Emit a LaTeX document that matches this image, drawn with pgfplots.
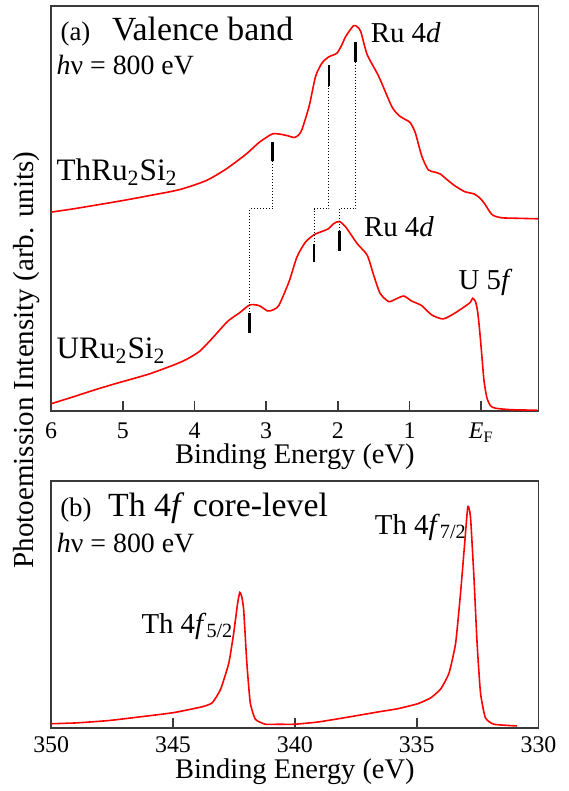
\documentclass[border=0pt]{standalone}
\usepackage{fontspec}
\setmainfont{Liberation Serif}
\usepackage{pgfplots}
\pgfplotsset{compat=1.18}
\definecolor{frame}{HTML}{3A3A3A}
\newcommand{\fs}[1]{\fontsize{#1}{#1}\selectfont}
\pgfplotsset{
  panel/.style={scale only axis, width=245pt, x dir=reverse,
    axis line style={draw=frame, line width=0.85pt},
    every tick/.style={draw=frame, line width=0.85pt},
    tick align=inside, major tick length=5pt, xtick pos=left, ytick=\empty,
    xticklabel style={font=\fs{12pt}, anchor=base, yshift=-14.2pt},
    every axis x label/.style={at={(axis description cs:0.5,0)}, anchor=base, yshift=-26.7pt, font=\fs{14.3pt}},
  },
  curve/.style={red, line width=0.8pt, smooth, tension=0.4},
  bar/.style={black, line width=1.3pt},
  guide/.style={black, densely dotted, line width=0.5pt},
}
\tikzset{lab/.style={anchor=base west, inner sep=0pt}}

\begin{document}
\begin{tikzpicture}
% (a) valence band
\begin{axis}[panel, at={(0,0)}, anchor=north west, height=203.5pt,
  xmin=-0.8, xmax=6, ymin=0, ymax=407,
  xtick={0,1,2,3,4,5,6}, xticklabels={\textit{E}\textsubscript{F},1,2,3,4,5,6},
  xlabel={Binding Energy (eV)}]
% ThRu2Si2
\addplot[curve] coordinates {(6.0,199.7) (5.69,203) (5.23,208.5) (4.95,212) (4.63,216.3) (4.21,222.3) (3.84,231.3) (3.56,243) (3.28,258) (3.10,269.7) (2.95,277) (2.89,278.7) (2.80,278) (2.70,276.5) (2.61,274.7) (2.55,277) (2.50,283) (2.40,306.3) (2.31,336.3) (2.22,349.7) (2.13,355.7) (2.07,357.5) (2.01,359.7) (1.95,367) (1.89,376.3) (1.78,387.3) (1.73,386) (1.68,381.3) (1.59,358) (1.43,336.3) (1.25,306.3) (1.15,297) (1.05,292.5) (0.99,289.7) (0.92,279.7) (0.83,256.3) (0.74,242.3) (0.65,240) (0.57,238) (0.47,232) (0.37,226.3) (0.23,220.3) (0.10,218) (0.02,214) (-0.05,208) (-0.12,200) (-0.17,196.3) (-0.28,194) (-0.5,193.5) (-0.79,193)};
% URu2Si2
\addplot[curve] coordinates {(6.0,7) (5.69,14) (5.39,21) (5.09,27.5) (4.95,30.3) (4.63,37) (4.30,45.7) (4.12,51.3) (3.93,59.7) (3.75,73) (3.54,89.7) (3.38,98) (3.23,106.3) (3.10,105.7) (2.98,100.3) (2.90,101.5) (2.82,106.3) (2.68,130) (2.57,154.7) (2.45,169.7) (2.33,177) (2.22,180.3) (2.13,183) (2.06,188) (1.98,190.3) (1.89,184.7) (1.73,168) (1.59,156.3) (1.50,136.3) (1.41,118) (1.29,109.7) (1.20,112) (1.08,115.3) (0.97,110.3) (0.83,105.7) (0.69,96.3) (0.53,92.3) (0.37,98) (0.23,104.7) (0.15,109) (0.12,113) (0.08,110) (0.05,100) (0.02,80) (-0.01,55) (-0.04,30) (-0.08,13) (-0.13,5) (-0.2,2.5) (-0.42,1) (-0.78,0.5)};
% guide lines
\addplot[guide] coordinates {(2.91,251) (2.91,203) (3.23,203) (3.23,98)};
\addplot[guide] coordinates {(2.125,327) (2.125,203) (2.33,203) (2.33,168)};
\addplot[guide] coordinates {(1.75,351) (1.75,203) (1.98,203) (1.98,181)};
% peak bars
\addplot[bar] coordinates {(2.91,251) (2.91,270)};
\addplot[bar] coordinates {(2.125,327) (2.125,348)};
\addplot[bar] coordinates {(1.75,351) (1.75,371)};
\addplot[bar] coordinates {(3.23,78) (3.23,98)};
\addplot[bar] coordinates {(2.33,150) (2.33,168)};
\addplot[bar] coordinates {(1.98,161) (1.98,181)};
\node[lab, font=\fs{13.5pt}] at (axis cs:5.875,372.3) {(a)};
\node[lab, font=\fs{17pt}] at (axis cs:5.157,372.3) {Valence band};
\node[lab, font=\fs{14pt}] at (axis cs:5.93,338) {\textit{h}ν = 800 eV};
\node[lab, font=\fs{15.7pt}] at (axis cs:5.93,231) {ThRu\textsubscript{2}Si\textsubscript{2}};
\node[lab, font=\fs{15.7pt}] at (axis cs:5.93,52) {URu\textsubscript{2}Si\textsubscript{2}};
\node[lab, font=\fs{14.5pt}] at (axis cs:1.546,370.3) {Ru 4\textit{d}};
\node[lab, font=\fs{14.5pt}] at (axis cs:1.639,174.7) {Ru 4\textit{d}};
\node[lab, font=\fs{14.5pt}] at (axis cs:0.319,122.3) {U 5\textit{f}};
\end{axis}
% (b) Th 4f core level
\begin{axis}[panel, at={(0,-239pt)}, anchor=north west, height=124pt,
  xmin=330, xmax=350, ymin=0, ymax=248,
  xtick={330,335,340,345,350}, xticklabels={330,335,340,345,350},
  xticklabel style={yshift=1.7pt},
  every axis x label/.append style={yshift=1.4pt},
  xlabel={Binding Energy (eV)}]
\addplot[red, line width=0.8pt, smooth, tension=0.3] coordinates {(350,4.2) (349.0,5) (348.4,6) (347.6,7.5) (346.4,11) (345.0,15.3) (343.8,21.3) (343.39,25.3) (343.05,38.7) (342.71,65.3) (342.51,95.3) (342.35,125) (342.26,136.3) (342.18,132) (342.1,118.7) (341.97,65.3) (341.83,25.3) (341.62,8.7) (341.21,3.7) (340.67,3.7) (340.0,3.7) (339.04,6) (337.95,10.3) (336.6,16) (335.78,19.3) (334.96,24.3) (334.42,30.3) (334.01,39.3) (333.67,55.3) (333.4,85.3) (333.2,135.3) (333.03,185.3) (332.9,222.7) (332.79,212) (332.65,152) (332.52,85.3) (332.38,35.3) (332.18,10.3) (331.83,3.7) (330.88,2)};
\node[lab, font=\fs{13.5pt}] at (axis cs:349.645,212.7) {(b)};
\node[lab, font=\fs{17pt}] at (axis cs:347.68,212.7) {Th 4\textit{f} core-level};
\node[lab, font=\fs{14pt}] at (axis cs:349.78,176) {\textit{h}ν = 800 eV};
\node[lab, font=\fs{14.5pt}] at (axis cs:346.31,95.3) {Th 4\textit{f}\textsubscript{5/2}};
\node[lab, font=\fs{14.5pt}] at (axis cs:336.73,194.7) {Th 4\textit{f}\textsubscript{7/2}};
\end{axis}
\node[rotate=90, font=\fs{14.6pt}] at (-12.25pt,-178pt) {Photoemission Intensity (arb. units)};
\path (-25.75pt,3pt) rectangle (260.25pt,-392.5pt);
\end{tikzpicture}
\end{document}
